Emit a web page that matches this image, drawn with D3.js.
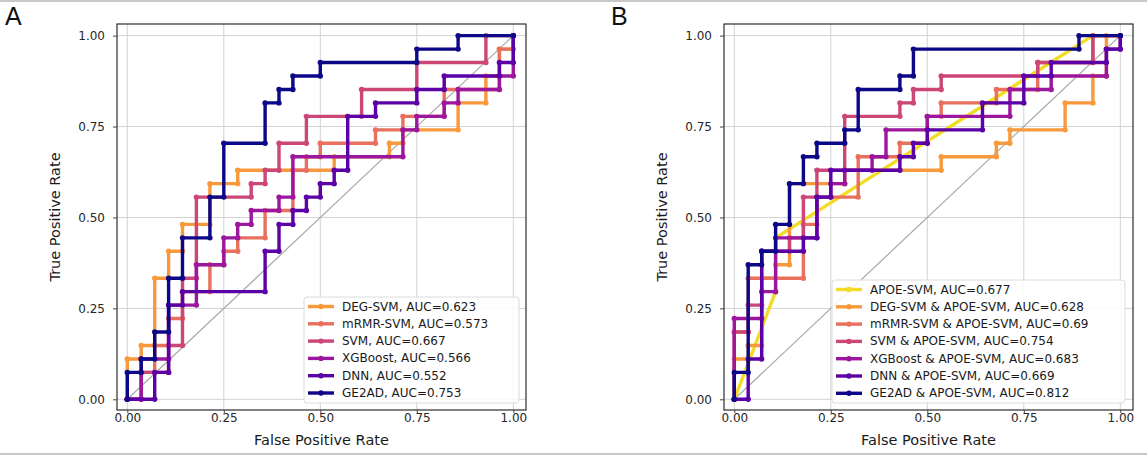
<!DOCTYPE html>
<html><head><meta charset="utf-8">
<script src="https://cdn.jsdelivr.net/npm/d3@7"></script>
<style>body{margin:0;background:#fff;} svg{display:block;font-family:"DejaVu Sans",sans-serif;}</style>
</head><body><svg id="c" width="1147" height="455"></svg>
<script>
// ---------- DATA ----------
const tickValues = [0, 0.25, 0.5, 0.75, 1];
const tickLabels = ["0.00", "0.25", "0.50", "0.75", "1.00"];

const namesA = ["DEG-SVM, AUC=0.623", "mRMR-SVM, AUC=0.573", "SVM, AUC=0.667",
  "XGBoost, AUC=0.566", "DNN, AUC=0.552", "GE2AD, AUC=0.753"];
const namesB = ["APOE-SVM, AUC=0.677", "DEG-SVM & APOE-SVM, AUC=0.628", "mRMR-SVM & APOE-SVM, AUC=0.69",
  "SVM & APOE-SVM, AUC=0.754", "XGBoost & APOE-SVM, AUC=0.683", "DNN & APOE-SVM, AUC=0.669",
  "GE2AD & APOE-SVM, AUC=0.812"];

// Panel A
const degFpr = [0,0,.036,.036,.071,.071,.107,.107,.143,.143,.214,.214,.286,.286,.536,.536,.679,.679,.714,.714,.857,.857,.929,.929,.964,.964,1,1];
const degTpr = [0,.111,.111,.148,.148,.333,.333,.407,.407,.481,.481,.593,.593,.630,.630,.667,.667,.704,.704,.741,.741,.815,.815,.889,.889,.963,.963,1];
const mrmrFpr = [0,.036,.036,.071,.071,.107,.107,.143,.143,.214,.214,.25,.25,.286,.286,.357,.357,.429,.429,.464,.464,.5,.5,.643,.643,.714,.714,.821,.821,.964,.964,1,1];
const mrmrTpr = [0,0,.074,.074,.148,.148,.222,.222,.296,.296,.370,.370,.407,.407,.444,.444,.519,.519,.630,.630,.667,.667,.704,.704,.741,.741,.778,.778,.852,.852,.963,.963,1];
const svmFpr = [0,.036,.036,.107,.107,.143,.143,.179,.179,.321,.321,.357,.357,.393,.393,.464,.464,.607,.607,.75,.75,.929,.929,1];
const svmTpr = [0,0,.074,.074,.148,.148,.333,.333,.556,.556,.593,.593,.630,.630,.704,.704,.778,.778,.852,.852,.926,.926,1,1];
const xgbFpr = [0,.036,.036,.107,.107,.179,.179,.25,.25,.286,.286,.321,.321,.393,.393,.429,.429,.714,.714,.75,.75,.821,.821,.857,.857,.964,.964,1,1];
const xgbTpr = [0,0,.111,.111,.259,.259,.370,.370,.444,.444,.481,.481,.519,.519,.556,.556,.667,.667,.741,.741,.778,.778,.815,.815,.852,.852,.889,.889,1];
const dnnFpr = [0,.071,.071,.107,.107,.143,.143,.357,.357,.393,.393,.429,.429,.464,.464,.5,.5,.536,.536,.571,.571,.643,.643,.75,.75,.821,.821,.964,.964,1,1];
const dnnTpr = [0,0,.074,.074,.259,.259,.296,.296,.407,.407,.481,.481,.519,.519,.556,.556,.593,.593,.630,.630,.778,.778,.815,.815,.852,.852,.889,.889,.926,.926,1];
const ge2adFpr = [0,0,.036,.036,.071,.071,.107,.107,.143,.143,.214,.214,.25,.25,.357,.357,.393,.393,.429,.429,.5,.5,.75,.75,.857,.857,1];
const ge2adTpr = [0,.074,.074,.111,.111,.185,.185,.333,.333,.444,.444,.556,.556,.704,.704,.815,.815,.852,.852,.889,.889,.926,.926,.963,.963,1,1];

// Panel B
const apoeFpr = [0,.107,.107,.929,1];
const apoeTpr = [0,.296,.444,1,1];
const degApoeFpr = [0,0,.036,.036,.071,.071,.107,.107,.143,.143,.286,.286,.536,.536,.679,.679,.714,.714,.857,.857,.929,.929,.964,.964,1];
const degApoeTpr = [0,.111,.111,.148,.148,.333,.333,.370,.370,.593,.593,.630,.630,.667,.667,.704,.704,.741,.741,.815,.815,.889,.889,1,1];
const mrmrApoeFpr = [0,0,.036,.036,.179,.179,.214,.214,.321,.321,.429,.429,.5,.5,.536,.536,.679,.679,.786,.786,.929,.929,1];
const mrmrApoeTpr = [0,.185,.185,.333,.333,.481,.481,.556,.556,.667,.667,.704,.704,.778,.778,.815,.815,.852,.852,.926,.926,1,1];
const svmApoeFpr = [0,0,.036,.036,.071,.071,.143,.143,.179,.179,.214,.214,.286,.286,.429,.429,.464,.464,.536,.536,.786,.786,.929,.929,1];
const svmApoeTpr = [0,.185,.185,.259,.259,.407,.407,.444,.444,.556,.556,.630,.630,.778,.778,.815,.815,.852,.852,.889,.889,.926,.926,1,1];
const xgbApoeFpr = [0,0,.071,.071,.107,.107,.214,.214,.25,.25,.286,.286,.357,.357,.393,.393,.5,.5,.714,.714,.821,.821,.964,.964,1,1];
const xgbApoeTpr = [0,.222,.222,.296,.296,.444,.444,.556,.556,.593,.593,.630,.630,.667,.667,.741,.741,.778,.778,.852,.852,.889,.889,.963,.963,1];
const dnnApoeFpr = [0,.036,.036,.071,.071,.179,.179,.214,.214,.25,.25,.429,.429,.464,.464,.5,.5,.643,.643,.75,.75,.821,.821,.964,.964,1,1];
const dnnApoeTpr = [0,0,.111,.111,.407,.407,.444,.444,.556,.556,.630,.630,.667,.667,.704,.704,.741,.741,.815,.815,.889,.889,.926,.926,.963,.963,1];
const ge2adApoeFpr = [0,0,.036,.036,.071,.071,.107,.107,.143,.143,.179,.179,.214,.214,.286,.286,.321,.321,.429,.429,.464,.464,.893,.893,1];
const ge2adApoeTpr = [0,.074,.074,.370,.370,.407,.407,.481,.481,.593,.593,.667,.667,.704,.704,.741,.741,.852,.852,.889,.889,.963,.963,1,1];

// ---------- STYLE ----------
const colorsA = ["#f89a3c", "#e8705d", "#cc4778", "#9c179e", "#5c01a6", "#0d0887"];
const colorsB = ["#f3dc26", "#f89a3c", "#e8705d", "#cc4778", "#9c179e", "#5c01a6", "#0d0887"];

const seriesA = [[degFpr, degTpr], [mrmrFpr, mrmrTpr], [svmFpr, svmTpr], [xgbFpr, xgbTpr], [dnnFpr, dnnTpr], [ge2adFpr, ge2adTpr]];
const seriesB = [[apoeFpr, apoeTpr], [degApoeFpr, degApoeTpr], [mrmrApoeFpr, mrmrApoeTpr], [svmApoeFpr, svmApoeTpr],
  [xgbApoeFpr, xgbApoeTpr], [dnnApoeFpr, dnnApoeTpr], [ge2adApoeFpr, ge2adApoeTpr]];

const svg = d3.select("#c");

// thin page border lines
svg.append("line").attr("x1", 0).attr("x2", 1147).attr("y1", 1).attr("y2", 1).attr("stroke", "#c8c8c8").attr("stroke-width", 2);
svg.append("line").attr("x1", 0).attr("x2", 1147).attr("y1", 454).attr("y2", 454).attr("stroke", "#c8c8c8").attr("stroke-width", 2);

function panel(o) {
  const x = d3.scaleLinear().domain([-0.0267, 1.0329]).range([o.left, o.right]);
  const y = d3.scaleLinear().domain([-0.0294, 1.032]).range([o.bottom, o.top]);
  const g = svg.append("g");

  // grid
  g.selectAll(".gx").data(tickValues).join("line")
    .attr("x1", d => x(d)).attr("x2", d => x(d)).attr("y1", o.top).attr("y2", o.bottom)
    .attr("stroke", "#d2d2d2").attr("stroke-width", 1);
  g.selectAll(".gy").data(tickValues).join("line")
    .attr("y1", d => y(d)).attr("y2", d => y(d)).attr("x1", o.left).attr("x2", o.right)
    .attr("stroke", "#d2d2d2").attr("stroke-width", 1);

  // diagonal
  g.append("line").attr("x1", x(0)).attr("y1", y(0)).attr("x2", x(1)).attr("y2", y(1))
    .attr("stroke", "#a8a8a8").attr("stroke-width", 1.2);

  const line = d3.line().x(d => x(d[0])).y(d => y(d[1]));
  o.series.forEach((s, i) => {
    const pts = s[0].map((f, j) => [f, s[1][j]]);
    g.append("path").attr("d", line(pts)).attr("fill", "none")
      .attr("stroke", o.colors[i]).attr("stroke-width", 3.4).attr("stroke-linejoin", "miter");
    g.append("g").selectAll("circle").data(pts).join("circle")
      .attr("cx", d => x(d[0])).attr("cy", d => y(d[1])).attr("r", 2.7).attr("fill", o.colors[i]);
  });

  // frame
  g.append("rect").attr("x", o.left).attr("y", o.top).attr("width", o.right - o.left).attr("height", o.bottom - o.top)
    .attr("fill", "none").attr("stroke", "#1a1a1a").attr("stroke-width", 1.1);

  // axes
  const xa = g.append("g").attr("transform", `translate(0,${o.bottom})`)
    .call(d3.axisBottom(x).tickValues(tickValues).tickFormat((d, i) => tickLabels[i]).tickSize(3).tickPadding(0.5));
  const ya = g.append("g").attr("transform", `translate(${o.left},0)`)
    .call(d3.axisLeft(y).tickValues(tickValues).tickFormat((d, i) => tickLabels[i]).tickSize(4).tickPadding(8));
  [xa, ya].forEach(a => {
    a.select(".domain").remove();
    a.selectAll("line").attr("stroke", "#444");
    a.selectAll("text").attr("font-size", 12).attr("fill", "#262626").attr("font-family", "DejaVu Sans");
  });

  g.append("text").attr("x", (o.left + o.right) / 2).attr("y", 445).attr("text-anchor", "middle")
    .attr("font-size", 14.5).attr("fill", "#1a1a1a").text("False Positive Rate");
  g.append("text").attr("transform", `translate(${o.left - 62},${(o.top + o.bottom) / 2}) rotate(-90)`)
    .attr("text-anchor", "middle").attr("dominant-baseline", "central")
    .attr("font-size", 14.5).attr("fill", "#1a1a1a").text("True Positive Rate");

  // legend
  const L = o.legend;
  const lg = g.append("g");
  lg.append("rect").attr("x", L.x).attr("y", L.y).attr("width", L.w).attr("height", L.h).attr("rx", 3)
    .attr("fill", "#fff").attr("fill-opacity", 0.85).attr("stroke", "#dcdcdc").attr("stroke-width", 1);
  o.names.forEach((n, i) => {
    const cy = L.y + 9.5 + i * 17.3;
    lg.append("line").attr("x1", L.x + 4).attr("x2", L.x + 30).attr("y1", cy).attr("y2", cy)
      .attr("stroke", o.colors[i]).attr("stroke-width", 3.4);
    lg.append("circle").attr("cx", L.x + 17).attr("cy", cy).attr("r", 2.7).attr("fill", o.colors[i]);
    lg.append("text").attr("x", L.x + 38).attr("y", cy).attr("dominant-baseline", "central")
      .attr("font-size", 12).attr("fill", "#1a1a1a").text(n);
  });
}

panel({left: 117, right: 526, top: 24, bottom: 410, series: seriesA, colors: colorsA, names: namesA,
  legend: {x: 304, y: 297, w: 215, h: 106}});
panel({left: 724, right: 1133, top: 24, bottom: 410, series: seriesB, colors: colorsB, names: namesB,
  legend: {x: 832, y: 280, w: 293, h: 123}});

svg.append("text").attr("x", 5).attr("y", 25).attr("font-family", "Liberation Sans, Arial, sans-serif")
  .attr("font-size", 25).attr("fill", "#111").text("A");
svg.append("text").attr("x", 611).attr("y", 25).attr("font-family", "Liberation Sans, Arial, sans-serif")
  .attr("font-size", 25).attr("fill", "#111").text("B");
</script></body></html>
